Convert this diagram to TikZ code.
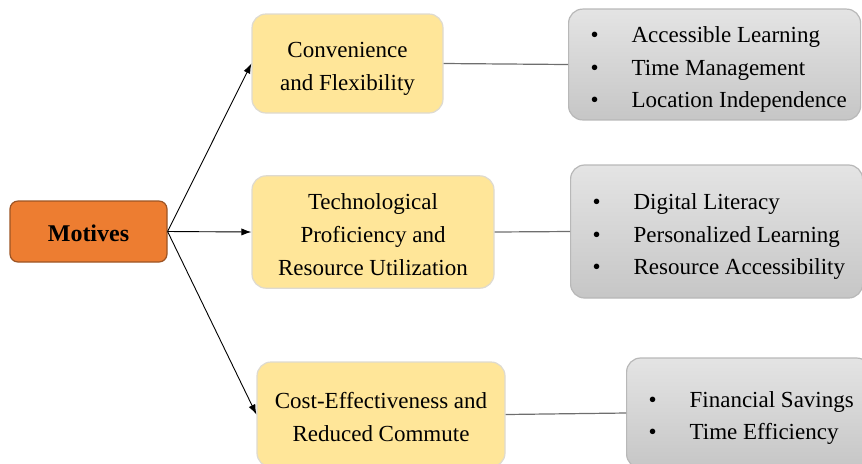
\documentclass[tikz,border=0pt]{standalone}
\usepackage{fontspec}
\setmainfont{Liberation Serif}
\usetikzlibrary{arrows.meta,shadings}
\definecolor{motivefill}{HTML}{ED7D31}
\definecolor{motiveline}{HTML}{9C5424}
\definecolor{reasonfill}{HTML}{FFE699}
\definecolor{reasonline}{HTML}{DEDAD0}
\definecolor{detailtop}{HTML}{E4E4E4}
\definecolor{detailbottom}{HTML}{C6C6C6}
\definecolor{detailline}{HTML}{B8B8B8}
\definecolor{linkgray}{HTML}{6E6E6E}
\newcommand{\bulletlist}[1]{\spaceskip=0pt\xspaceskip=0pt%
  \raisebox{-2pt}[\height][\depth]{\begin{tabular}{@{}l@{\hspace{16.5pt}}l@{}}#1\end{tabular}}}
\newcommand{\reasontext}[1]{\raisebox{-1.8pt}[\height][\depth]{\begin{tabular}{@{}c@{}}#1\end{tabular}}}

\begin{document}
\begin{tikzpicture}[x=0.5pt,y=-0.5pt,
    motive/.style={draw=motiveline,line width=0.6pt,fill=motivefill,rounded corners=4pt,
      font=\fontsize{12}{14}\selectfont\bfseries},
    reason/.style={draw=reasonline,line width=0.6pt,fill=reasonfill,rounded corners=7pt,
      font=\fontsize{11.5}{16.5}\selectfont},
    detail/.style={draw=detailline,line width=0.6pt,top color=detailtop,bottom color=detailbottom,
      rounded corners=7pt,anchor=west,align=left,inner xsep=11pt,
      font=\fontsize{11.5}{16.25}\selectfont},
    arrow/.style={-{Latex[length=5pt,width=3.6pt]},line width=0.45pt,black},
    link/.style={line width=0.6pt,linkgray}]
  \useasboundingbox (0,0) rectangle (862,463);
  \node[motive,minimum width=78.5pt,minimum height=30.5pt] (motives) at (88.5,231.5)
    {\raisebox{-0.8pt}[\height][\depth]{Motives}};

  \node[reason,minimum width=95.5pt,minimum height=49.5pt] (conv) at (347.5,63.5)
    {\reasontext{Convenience\\and Flexibility}};
  \node[reason,minimum width=121pt,minimum height=56pt] (tech) at (373,232)
    {\reasontext{Technological\\Proficiency and\\Resource Utilization}};
  \node[reason,minimum width=124pt,minimum height=52.5pt] (cost) at (381,414.5)
    {\reasontext{Cost-Effectiveness and\\Reduced Commute}};

  \node[detail,text width=124pt,minimum height=54.5pt] (convlist) at (568,64.5)
    {\bulletlist{\textbullet & Accessible Learning\\ \textbullet & Time Management\\
      \textbullet & Location Independence}};
  \node[detail,text width=124pt,minimum height=66.5pt] (techlist) at (570,231.5)
    {\bulletlist{\textbullet & Digital Literacy\\ \textbullet & Personalized Learning\\
      \textbullet & Resource Accessibility}};
  \node[detail,text width=100pt,minimum height=55pt] (costlist) at (626,413)
    {\bulletlist{\textbullet & Financial Savings\\ \textbullet & Time Efficiency}};

  \draw[arrow] (motives.east) -- (conv.west);
  \draw[arrow] (motives.east) -- (tech.west);
  \draw[arrow] (motives.east) -- (cost.west);
  \draw[link] (conv.east) -- (convlist.west);
  \draw[link] (tech.east) -- (techlist.west);
  \draw[link] (cost.east) -- (costlist.west);
\end{tikzpicture}
\end{document}
